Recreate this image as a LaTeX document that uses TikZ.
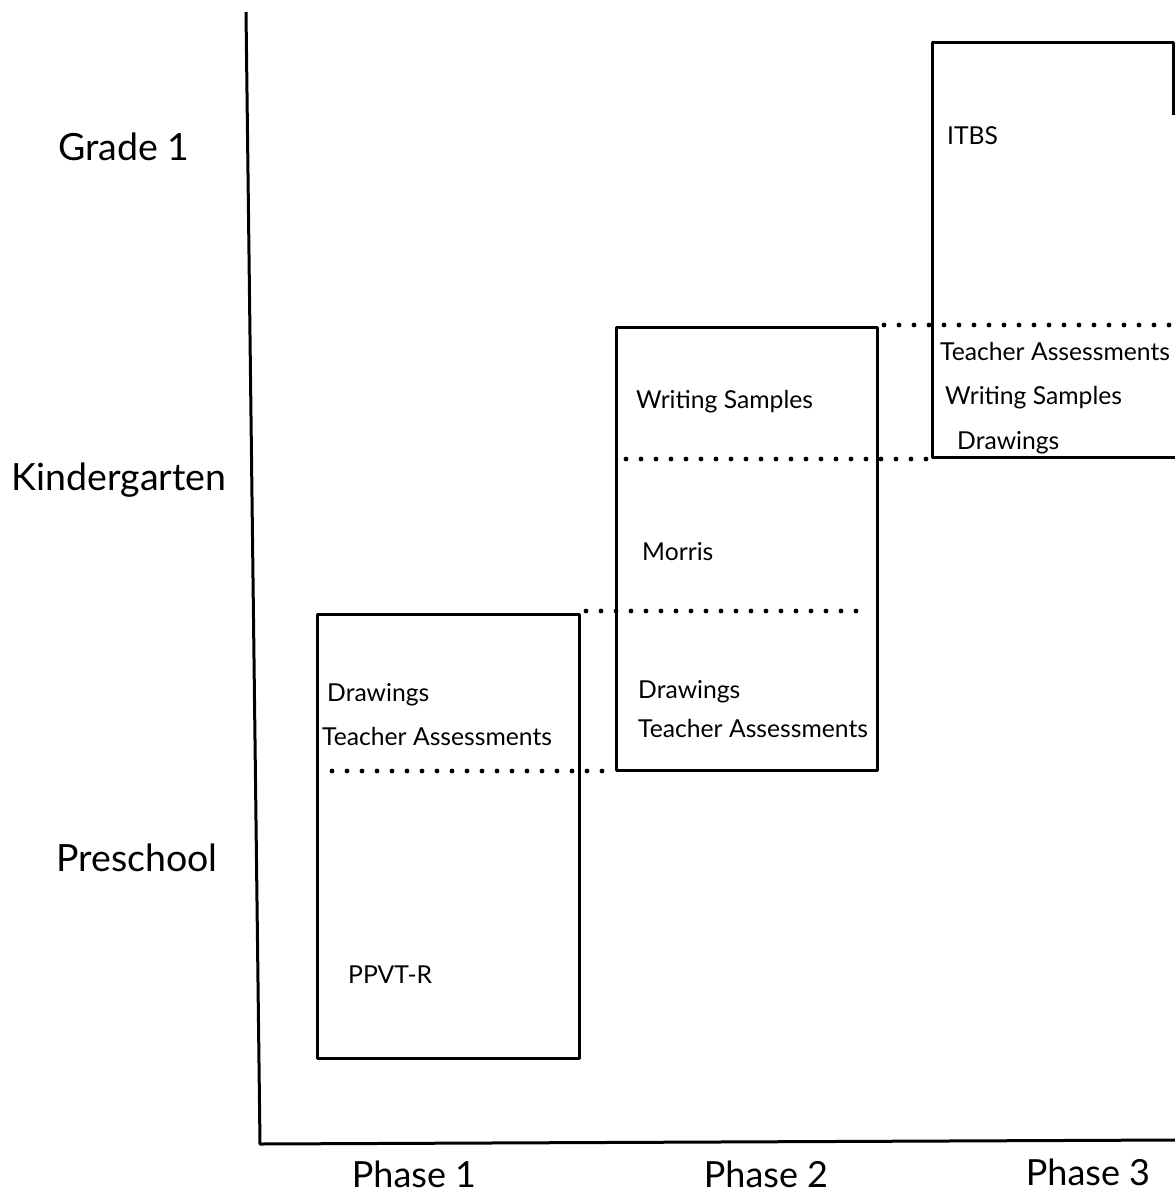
\documentclass[tikz,border=0pt]{standalone}
\usepackage{fontspec}
\setmainfont{Lato}
\begin{document}
\begin{tikzpicture}[x=1pt,y=-1pt,
  edge/.style={line width=3pt, line join=round},
  dotline/.style={line width=4.8pt, line cap=round, dash pattern=on 0pt off 15pt},
  item/.style={font=\fontsize{24.7}{28}\selectfont, anchor=west, inner sep=0pt, text height=0.72em, text depth=0pt, yshift=-5pt},
  rowlab/.style={font=\fontsize{37.5}{42}\selectfont, anchor=center, inner sep=0pt, text height=0.72em, text depth=0pt, yshift=-10pt},
  collab/.style={font=\fontsize{36}{42}\selectfont, anchor=center, inner sep=0pt, text height=0.72em, text depth=0pt, yshift=-4pt}]
\useasboundingbox (0,0) rectangle (1175,1197);
% axes
\coordinate (top) at (246,12);
\coordinate (origin) at (260,1144);
\coordinate (xend) at (1175,1140);
\draw[edge] (top) -- (origin) -- (xend);
% row labels
\node[rowlab] (g1) at (124,147) {Grade 1};
\node[rowlab] (kg) at (119,477) {Kindergarten};
\node[rowlab] (ps) at (137,858) {Preschool};
% column labels
\node[collab] (p1) at (414,1180) {Phase 1};
\node[collab] (p2) at (766,1180) {Phase 2};
\node[collab] (p3) at (1088,1178) {Phase 3};
% box 1
\draw[edge] (317,614) rectangle (579,1058);
% box 2
\draw[edge] (616,327) rectangle (877,770);
% box 3 (cut at right margin)
\draw[edge] (1173,115) -- (1173,42) -- (932,42) -- (932,457) -- (1175,457);
% dotted divisions
\draw[dotline] (332,771) -- (616,771);
\draw[dotline] (586,611) -- (870,611);
\draw[dotline] (626,459) -- (935,459);
\draw[dotline] (884,325) -- (1175,325);
% box 1 texts
\node[item] (b1d) at (327,693) {Drawings};
\node[item] (b1t) at (322,737) {Teacher Assessments};
\node[item] (b1p) at (348,975) {PPVT-R};
% box 2 texts
\node[item] (b2w) at (636,400) {Writing Samples};
\node[item] (b2m) at (642,552) {Morris};
\node[item] (b2d) at (638,690) {Drawings};
\node[item] (b2t) at (638,729) {Teacher Assessments};
% box 3 texts
\node[item] (b3i) at (947,136) {ITBS};
\node[item] (b3t) at (940,352) {Teacher Assessments};
\node[item] (b3w) at (945,396) {Writing Samples};
\node[item] (b3d) at (957,441) {Drawings};
\end{tikzpicture}
\end{document}
